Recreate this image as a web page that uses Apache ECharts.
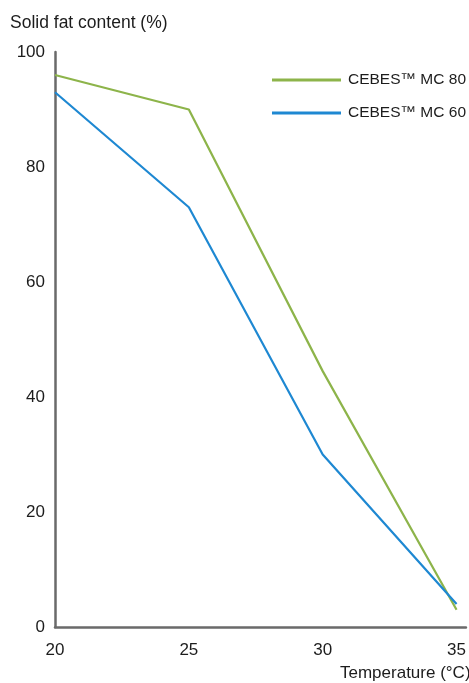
<!DOCTYPE html>
<html>
<head>
<meta charset="utf-8">
<script src="https://cdn.jsdelivr.net/npm/echarts@6/dist/echarts.min.js"></script>
<style>html,body{margin:0;padding:0;background:#fff;}#c{width:469px;height:683px;}</style>
</head>
<body>
<div id="c"></div>
<script>
var temperatures = [20, 25, 30, 35];
var mc80 = [96, 90, 44.5, 3];
var mc60 = [93, 73, 30, 4];
var yTicks = [0, 20, 40, 60, 80, 100];
var seriesNames = ['CEBES\u2122 MC 80', 'CEBES\u2122 MC 60'];

var chart = echarts.init(document.getElementById('c'));
var font = 'Liberation Sans, Arial, sans-serif';
var ink = '#1c1c1c';
function pairs(xs, ys) { return xs.map(function (x, i) { return [x, ys[i]]; }); }
chart.setOption({
  animation: false,
  backgroundColor: '#fff',
  title: {
    text: 'Solid fat content (%)', left: 10, top: 14, padding: 0,
    textStyle: { fontFamily: font, fontSize: 17.5, fontWeight: 'normal', color: ink }
  },
  legend: {
    orient: 'vertical', right: 3, top: 72, padding: 0,
    itemWidth: 69, itemHeight: 3, itemGap: 17,
    icon: 'rect',
    textStyle: { fontFamily: font, fontSize: 15.5, color: ink, padding: [0, 0, 0, 2] },
    data: seriesNames
  },
  graphic: [{
    type: 'text', left: 340, top: 665,
    style: { text: 'Temperature (\u00b0C)', font: '17px ' + font, fill: ink }
  }],
  grid: { left: 55, right: 0, top: 52, bottom: 56 },
  xAxis: {
    type: 'value', min: 20, max: 35.35, interval: 5,
    axisLine: { lineStyle: { color: '#6a6a6a', width: 2.5 } },
    axisTick: { show: false }, splitLine: { show: false },
    axisLabel: { showMaxLabel: false, margin: 15, fontFamily: font, fontSize: 17, color: ink }
  },
  yAxis: {
    type: 'value', min: yTicks[0], max: yTicks[yTicks.length - 1], interval: 20,
    axisLine: { show: true, lineStyle: { color: '#6a6a6a', width: 2.5 } },
    axisTick: { show: false }, splitLine: { show: false },
    axisLabel: { margin: 10, fontFamily: font, fontSize: 17, color: ink }
  },
  series: [
    { name: seriesNames[0], type: 'line', data: pairs(temperatures, mc80), symbol: 'none',
      lineStyle: { color: '#8db44a', width: 2.2 }, itemStyle: { color: '#8db44a' } },
    { name: seriesNames[1], type: 'line', data: pairs(temperatures, mc60), symbol: 'none',
      lineStyle: { color: '#1e88d2', width: 2.2 }, itemStyle: { color: '#1e88d2' } }
  ]
});
</script>
</body>
</html>
